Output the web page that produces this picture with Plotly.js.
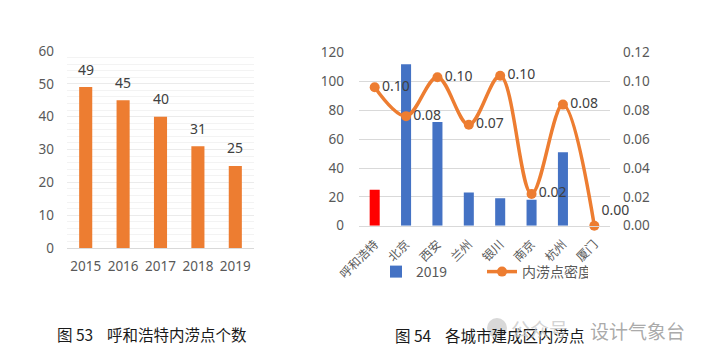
<!DOCTYPE html>
<html>
<head>
<meta charset="utf-8">
<script src="https://cdn.plot.ly/plotly-3.0.1.min.js"></script>
<style>
html,body{margin:0;padding:0;background:#fff;}
#chart{width:708px;height:357px;}
</style>
</head>
<body>
<div id="chart"></div>
<script>
// Left chart data
var years = ['2015', '2016', '2017', '2018', '2019'];
var hohhotCounts = [49, 45, 40, 31, 25];

// Right chart data
var cities = ['呼和浩特', '北京', '西安', '兰州', '银川', '南京', '杭州', '厦门'];
var cityCounts = [25, 112, 72, 23, 19, 18, 51, 0];
var cityDensity = [0.096, 0.076, 0.103, 0.070, 0.104, 0.022, 0.084, 0.000];
var densityTextPos = ['middle right', 'middle right', 'middle right', 'middle right', 'middle right', 'middle right', 'middle right', 'top right'];

var seriesBarName = '2019';
var seriesLineName = '内涝点密度';
var caption1 = '图\u00a053\u00a0\u00a0\u00a0\u00a0呼和浩特内涝点个数';
var caption2 = '图\u00a054\u00a0\u00a0\u00a0\u00a0各城市建成区内涝点';

var FONT = "'Noto Sans', 'Noto Sans CJK SC', sans-serif";
var CJK = "'Noto Sans CJK SC', 'Noto Sans', sans-serif";
var TICK = '#595959';
var ORANGE = '#ED7D31';
var BLUE = '#4472C4';
var RED = '#FF0000';

var W = 708, H = 357;
function px(x){ return x / W; }
function py(y){ return 1 - y / H; }

var traces = [
  {
    type: 'bar', x: years, y: hohhotCounts, xaxis: 'x', yaxis: 'y',
    marker: {color: ORANGE}, width: 0.35, showlegend: false, hoverinfo: 'x+y'
  },
  {
    type: 'bar', x: [cities[0]], y: [cityCounts[0]], xaxis: 'x2', yaxis: 'y2',
    marker: {color: RED}, width: 0.32, showlegend: false, name: cities[0]
  },
  {
    type: 'bar', x: cities.slice(1), y: cityCounts.slice(1), xaxis: 'x2', yaxis: 'y2',
    marker: {color: BLUE}, width: 0.32, name: seriesBarName
  },
  {
    type: 'scatter', mode: 'lines+markers+text', x: cities, y: cityDensity,
    xaxis: 'x2', yaxis: 'y3', name: seriesLineName,
    line: {color: ORANGE, width: 3.5, shape: 'spline', smoothing: 1},
    marker: {color: ORANGE, size: 10},
    texttemplate: '%{y:.2f}', textposition: densityTextPos,
    textfont: {family: FONT, size: 14, color: '#404040'},
    cliponaxis: false
  }
];

var annotations = [];
years.forEach(function(yr, i){
  annotations.push({
    x: i, y: hohhotCounts[i], xref: 'x', yref: 'y', text: String(hohhotCounts[i]),
    showarrow: false, yanchor: 'middle', xanchor: 'center', yshift: 18,
    font: {family: FONT, size: 14, color: '#404040'}
  });
});
annotations.push({
  x: px(55), y: py(334), xref: 'paper', yref: 'paper', xanchor: 'left', yanchor: 'middle',
  text: caption1, showarrow: false, font: {family: CJK, size: 15.5, color: '#1a1a1a'}
});
annotations.push({
  x: px(393), y: py(335), xref: 'paper', yref: 'paper', xanchor: 'left', yanchor: 'middle',
  text: caption2, showarrow: false, font: {family: CJK, size: 15.5, color: '#1a1a1a'}
});
annotations.push({
  x: px(509), y: py(328), xref: 'paper', yref: 'paper', xanchor: 'left', yanchor: 'middle',
  text: '公众号', showarrow: false, font: {family: CJK, size: 19, color: 'rgba(200,200,200,0.8)'}
});
annotations.push({
  x: px(588), y: py(330), xref: 'paper', yref: 'paper', xanchor: 'left', yanchor: 'middle',
  text: '设计气象台', showarrow: false, font: {family: CJK, size: 19, color: 'rgba(160,160,160,0.9)'}
});

var layout = {
  width: W, height: H,
  margin: {l: 0, r: 0, t: 0, b: 0},
  paper_bgcolor: '#fff', plot_bgcolor: 'rgba(0,0,0,0)',
  font: {family: FONT, color: TICK},
  barmode: 'overlay',
  showlegend: true,
  legend: {
    orientation: 'h', x: px(376), y: py(272), xanchor: 'left', yanchor: 'middle',
    font: {family: CJK, size: 14, color: TICK}, bgcolor: 'rgba(0,0,0,0)',
    traceorder: 'normal', itemwidth: 30, entrywidth: 61, entrywidthmode: 'pixels'
  },
  xaxis: {
    domain: [px(67), px(254)], anchor: 'y', type: 'category',
    range: [-0.5, years.length - 0.5], autorange: false,
    showline: true, linecolor: '#d9d9d9', linewidth: 1, ticks: '',
    tickfont: {family: FONT, size: 13.5, color: TICK}, ticklabelstandoff: 6,
    showgrid: false, fixedrange: true
  },
  yaxis: {
    domain: [py(248), py(51)], anchor: 'x', range: [0, 60], dtick: 10,
    showgrid: true, gridcolor: '#ebebeb', gridwidth: 1,
    minor: {dtick: 2, showgrid: true, gridcolor: '#f3f3f3', gridwidth: 1},
    zeroline: false, showline: false, ticks: '',
    tickfont: {family: FONT, size: 13.5, color: TICK}, ticklabelstandoff: 12,
    fixedrange: true
  },
  xaxis2: {
    domain: [px(359), px(610)], anchor: 'y2', type: 'category',
    categoryorder: 'array', categoryarray: cities,
    range: [-0.5, cities.length - 0.5], autorange: false,
    showline: true, linecolor: '#d9d9d9', linewidth: 1, ticks: '',
    tickangle: -45, tickfont: {family: CJK, size: 12, color: TICK}, ticklabelstandoff: 6,
    showgrid: false, fixedrange: true
  },
  yaxis2: {
    domain: [py(225.7), py(52.7)], anchor: 'x2', range: [0, 120], dtick: 20,
    showgrid: true, gridcolor: '#d9d9d9', gridwidth: 1,
    zeroline: false, showline: false, ticks: '',
    tickfont: {family: FONT, size: 13.5, color: TICK}, ticklabelstandoff: 14,
    fixedrange: true
  },
  yaxis3: {
    overlaying: 'y2', side: 'right', anchor: 'x2', range: [0, 0.12], dtick: 0.02,
    tickformat: '.2f', showgrid: false, zeroline: false, showline: false, ticks: '',
    tickfont: {family: FONT, size: 13.5, color: TICK}, ticklabelstandoff: 12,
    fixedrange: true
  },
  annotations: annotations,
  shapes: [
    {type: 'circle', xref: 'paper', yref: 'paper', x0: px(487), x1: px(507), y0: py(338), y1: py(318),
     fillcolor: 'rgba(200,200,200,0.7)', line: {width: 0}}
  ]
};

Plotly.newPlot('chart', traces, layout, {displayModeBar: false, staticPlot: true});
</script>
</body>
</html>
